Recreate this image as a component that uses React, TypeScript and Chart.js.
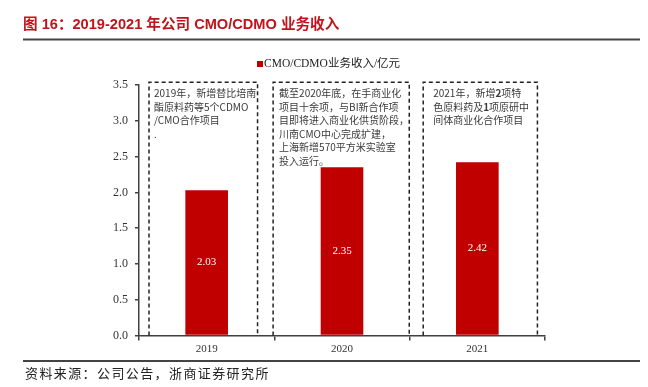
import React, { useEffect, useRef } from "react";
import { Chart, registerables } from "chart.js";

Chart.register(...registerables);

const titleText = "图 16：2019-2021 年公司 CMO/CDMO 业务收入";
const sourceText = "资料来源：公司公告，浙商证券研究所";
const categories = ["2019", "2020", "2021"];
const revenue = [2.03, 2.35, 2.42];
const seriesLabel = "CMO/CDMO业务收入/亿元";
const yTicksMax = 3.5;
const yTickStep = 0.5;

const box1Lines = ["2019年，新增替比培南", "酯原料药等5个CDMO", "/CMO合作项目", "."];
const box2Lines = [
  "截至2020年底，在手商业化",
  "项目十余项，与BI新合作项",
  "目即将进入商业化供货阶段，",
  "川南CMO中心完成扩建，",
  "上海新增570平方米实验室",
  "投入运行。",
];
const box3Lines = ["2021年，新增**2**项特", "色原料药及**1**项原研中", "间体商业化合作项目"];

// annotation boxes placed in category-index coordinates
const boxes = [
  { from: -0.426, to: 0.376, top: 3.54, textDx: 5, lines: box1Lines },
  { from: 0.491, to: 1.497, top: 3.54, textDx: 6, lines: box2Lines },
  { from: 1.6, to: 2.444, top: 3.54, textDx: 10, lines: box3Lines },
];

const RED = "#c00000";
const AXIS = "#404040";
const SERIF = "'Liberation Serif', 'Times New Roman', serif";
const CJK = "'Noto Sans CJK SC', 'Noto Sans', sans-serif";

const decorPlugin = {
  id: "decor",
  beforeDatasetsDraw(chart: any) {
    const ctx = chart.ctx as CanvasRenderingContext2D;
    const x = chart.scales.x;
    const y = chart.scales.y;
    ctx.save();
    for (const b of boxes) {
      const l = x.getPixelForValue(b.from);
      const r = x.getPixelForValue(b.to);
      const t = y.getPixelForValue(b.top);
      const btm = y.getPixelForValue(0);
      ctx.strokeStyle = "#222";
      ctx.lineWidth = 1.5;
      ctx.setLineDash([4, 3]);
      ctx.beginPath();
      ctx.moveTo(l, btm);
      ctx.lineTo(l, t);
      ctx.lineTo(r, t);
      ctx.lineTo(r, btm);
      ctx.stroke();
      ctx.setLineDash([]);
      ctx.fillStyle = "#3a3a3a";
      ctx.textBaseline = "middle";
      ctx.textAlign = "left";
      b.lines.forEach((line, i) => {
        const ly = t + 11.3 + i * 13.5;
        let cx = l + b.textDx;
        const parts = line.split("**");
        parts.forEach((p, k) => {
          ctx.font = (k % 2 === 1 ? "bold " : "") + "10px " + CJK;
          ctx.fillText(p, cx, ly);
          cx += ctx.measureText(p).width;
        });
      });
    }
    ctx.restore();
  },
  afterDatasetsDraw(chart: any) {
    const ctx = chart.ctx as CanvasRenderingContext2D;
    const meta = chart.getDatasetMeta(0);
    ctx.save();
    ctx.fillStyle = "#ffffff";
    ctx.font = "11px " + SERIF;
    ctx.textAlign = "center";
    ctx.textBaseline = "middle";
    meta.data.forEach((bar: any, i: number) => {
      const mid = (bar.y + bar.base) / 2;
      ctx.fillText(revenue[i].toFixed(2), bar.x, mid);
    });
    ctx.restore();
  },
  afterDraw(chart: any) {
    const ctx = chart.ctx as CanvasRenderingContext2D;
    ctx.save();
    // title
    ctx.fillStyle = "#c0141c";
    ctx.font = "bold 14.6px 'Liberation Sans', " + CJK;
    ctx.textBaseline = "middle";
    ctx.textAlign = "left";
    ctx.fillText(titleText, 23, 25);
    // rules
    ctx.strokeStyle = "#444";
    ctx.lineWidth = 2;
    ctx.beginPath();
    ctx.moveTo(23, 39.5);
    ctx.lineTo(640, 39.5);
    ctx.stroke();
    ctx.beginPath();
    ctx.moveTo(23, 361);
    ctx.lineTo(640, 361);
    ctx.stroke();
    // source
    ctx.fillStyle = "#222";
    ctx.font = "13px " + CJK;
    (ctx as any).letterSpacing = "1.4px";
    ctx.fillText(sourceText, 25, 373);
    (ctx as any).letterSpacing = "0px";
    // legend
    ctx.fillStyle = RED;
    ctx.fillRect(257, 61, 6, 6);
    ctx.fillStyle = "#222";
    ctx.font = "11.5px " + SERIF + ", " + CJK;
    ctx.fillText(seriesLabel, 264, 64);
    ctx.restore();
  },
};

export default function App() {
  const ref = useRef<HTMLCanvasElement | null>(null);
  useEffect(() => {
    if (!ref.current) return;
    const chart = new Chart(ref.current, {
      type: "bar",
      data: {
        labels: categories,
        datasets: [
          {
            label: seriesLabel,
            data: revenue,
            backgroundColor: RED,
            barPercentage: 0.315,
            categoryPercentage: 1,
          },
        ],
      },
      options: {
        animation: false,
        responsive: false,
        devicePixelRatio: 1,
        layout: { padding: { left: 0, right: 103, top: 85, bottom: 0 } },
        plugins: { legend: { display: false }, tooltip: { enabled: false } },
        scales: {
          x: {
            grid: { display: true, offset: true, drawOnChartArea: false, tickLength: 5, color: AXIS, lineWidth: 1.5 },
            border: { display: true, color: AXIS, width: 1.5 },
            ticks: { font: { family: SERIF, size: 11 }, color: "#333", padding: 2 },
            afterFit: (s: any) => {
              s.height = 51.5;
            },
          },
          y: {
            min: 0,
            max: yTicksMax,
            grid: { display: true, drawOnChartArea: false, tickLength: 4, color: AXIS, lineWidth: 1.5 },
            border: { display: true, color: AXIS, width: 1.5 },
            ticks: {
              stepSize: yTickStep,
              font: { family: SERIF, size: 12 },
              color: "#333",
              padding: 7,
              callback: (v: any) => Number(v).toFixed(1),
            },
            afterFit: (s: any) => {
              s.width = 139;
            },
          },
        },
      },
      plugins: [decorPlugin],
    });
    return () => chart.destroy();
  }, []);
  return (
    <div style={{ position: "absolute", left: 0, top: 0, width: 648, height: 387, background: "#fff" }}>
      <canvas ref={ref} width={648} height={387} />
    </div>
  );
}
